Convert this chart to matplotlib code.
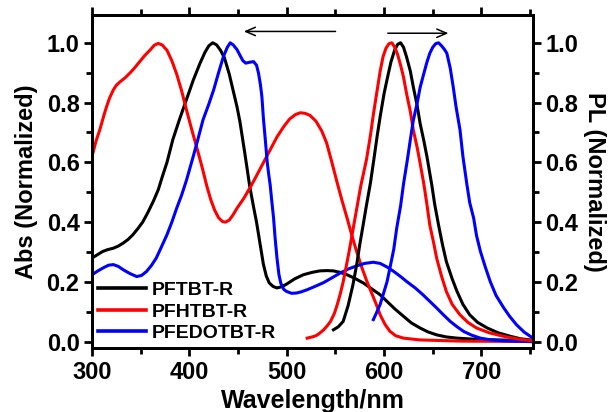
import matplotlib
matplotlib.use('Agg')
import matplotlib.pyplot as plt
from matplotlib.ticker import MultipleLocator

plt.rcParams['font.family'] = ['Liberation Sans', 'DejaVu Sans']
plt.rcParams['font.weight'] = 'bold'

# -----------------------
# DATA
# -----------------------
series_names = ["PFTBT-R", "PFHTBT-R", "PFEDOTBT-R"]
series_colors = ["#000000", "#ff0000", "#0000ff"]

# absorption (left axis)
abs_black_x = [300, 306, 311, 316, 322, 327, 332, 337, 342, 347, 352, 357, 363, 368, 372, 377, 383, 390,
               397, 404, 411, 416, 420, 424, 428, 432, 436, 441, 445, 449, 452, 457, 462, 466, 469, 473,
               476, 479, 482, 486, 490, 495, 500, 508, 517, 526, 534, 541, 548, 555, 562, 570, 579, 586,
               596, 603, 611, 620, 628, 637, 645, 654, 664, 675, 690, 705, 730, 753]
abs_black_y = [0.28, 0.292, 0.302, 0.308, 0.313, 0.32, 0.33, 0.342, 0.358, 0.378, 0.40, 0.43, 0.47, 0.508,
               0.55, 0.60, 0.676, 0.745, 0.81, 0.875, 0.932, 0.968, 0.99, 1.0, 0.993, 0.975, 0.95, 0.895,
               0.84, 0.785, 0.735, 0.63, 0.52, 0.45, 0.40, 0.32, 0.26, 0.22, 0.197, 0.185, 0.18, 0.184,
               0.193, 0.21, 0.224, 0.232, 0.237, 0.238, 0.237, 0.232, 0.224, 0.212, 0.196, 0.18, 0.157,
               0.135, 0.11, 0.085, 0.063, 0.046, 0.033, 0.023, 0.016, 0.012, 0.009, 0.007, 0.005, 0.003]

abs_red_x = [300, 304, 308, 312, 315, 318, 322, 325, 329, 334, 339, 344, 349, 354, 360, 364, 368, 372,
             377, 382, 387, 392, 397, 402, 408, 413, 418, 422, 426, 430, 434, 437, 441, 445, 449, 456,
             464, 473, 483, 490, 497, 503, 509, 514, 519, 524, 530, 536, 541, 546, 552, 557, 562, 567,
             572, 577, 582, 587, 592, 596, 601, 606, 612, 620, 637, 680, 753]
abs_red_y = [0.62, 0.67, 0.709, 0.755, 0.787, 0.815, 0.843, 0.858, 0.87, 0.883, 0.899, 0.917, 0.937,
             0.957, 0.977, 0.992, 0.998, 0.993, 0.975, 0.94, 0.895, 0.84, 0.776, 0.715, 0.645, 0.585,
             0.52, 0.475, 0.44, 0.415, 0.402, 0.40, 0.407, 0.425, 0.447, 0.48, 0.525, 0.58, 0.642, 0.685,
             0.72, 0.745, 0.76, 0.766, 0.764, 0.757, 0.738, 0.705, 0.665, 0.605, 0.53, 0.47, 0.414,
             0.355, 0.30, 0.25, 0.205, 0.165, 0.125, 0.09, 0.058, 0.035, 0.02, 0.012, 0.006, 0.002, 0.001]

abs_blue_x = [300, 306, 312, 317, 322, 327, 332, 339, 346, 351, 356, 361, 366, 371, 377, 382, 387, 392,
              397, 404, 409, 414, 420, 425, 430, 435, 439, 442, 445, 449, 452, 455, 458, 462, 466, 469,
              471, 473, 474.5, 476, 478, 480, 481.5, 483, 485, 486.5, 488, 490, 492, 494, 497, 500, 505,
              510, 515, 521, 529, 538, 546, 555, 563, 572, 580, 589, 596, 603, 610, 617, 623, 632, 640,
              647, 654, 661, 668, 675, 682, 690, 699, 710, 723, 753]
abs_blue_y = [0.224, 0.237, 0.248, 0.256, 0.258, 0.252, 0.241, 0.228, 0.218, 0.222, 0.235, 0.255, 0.28,
              0.315, 0.358, 0.40, 0.447, 0.49, 0.54, 0.62, 0.68, 0.742, 0.795, 0.843, 0.90, 0.954, 0.985,
              1.0, 0.993, 0.977, 0.958, 0.94, 0.932, 0.935, 0.937, 0.925, 0.899, 0.86, 0.82, 0.75, 0.676,
              0.60, 0.56, 0.525, 0.46, 0.414, 0.35, 0.28, 0.225, 0.195, 0.175, 0.168, 0.162, 0.163,
              0.167, 0.174, 0.185, 0.198, 0.213, 0.23, 0.243, 0.254, 0.262, 0.266, 0.262, 0.25, 0.235,
              0.218, 0.202, 0.18, 0.157, 0.135, 0.113, 0.09, 0.068, 0.05, 0.034, 0.022, 0.012, 0.006,
              0.003, 0.0]

# photoluminescence (right axis)
pl_black_x = [548, 553, 558, 563, 568, 572, 575, 579, 582, 586, 589, 593, 596, 600, 603, 607, 611, 614,
              617, 620, 623, 627, 630, 634, 637, 641, 644, 649, 652, 656, 660, 664, 670, 675, 681, 688,
              696, 706, 717, 730, 740, 753]
pl_black_y = [0.04, 0.05, 0.068, 0.12, 0.19, 0.26, 0.324, 0.40, 0.458, 0.531, 0.598, 0.69, 0.753, 0.83,
              0.876, 0.935, 0.977, 0.995, 1.0, 0.985, 0.954, 0.905, 0.853, 0.79, 0.731, 0.67, 0.62, 0.525,
              0.46, 0.39, 0.325, 0.268, 0.21, 0.168, 0.125, 0.09, 0.065, 0.046, 0.03, 0.018, 0.01, 0.005]

pl_red_x = [521, 526, 530, 534, 538, 542, 545, 549, 552, 555, 558, 561, 564, 567, 570, 573, 576, 579,
            582, 586, 589, 593, 596, 599, 602, 605, 608, 611, 614, 617, 620, 623, 627, 630, 634, 637,
            641, 644, 647, 651, 654, 659, 664, 670, 678, 686, 695, 708, 723, 738, 753]
pl_red_y = [0.012, 0.016, 0.02, 0.029, 0.04, 0.055, 0.068, 0.095, 0.125, 0.16, 0.2, 0.25, 0.3, 0.355,
            0.41, 0.465, 0.52, 0.565, 0.61, 0.69, 0.76, 0.843, 0.905, 0.954, 0.982, 0.997, 1.0, 0.985,
            0.96, 0.925, 0.885, 0.832, 0.77, 0.709, 0.65, 0.598, 0.525, 0.46, 0.39, 0.33, 0.28, 0.22,
            0.168, 0.125, 0.09, 0.065, 0.046, 0.03, 0.018, 0.009, 0.003]

pl_blue_x = [589, 592, 596, 599, 603, 606, 610, 613, 617, 620, 624, 627, 630, 634, 637, 641, 644, 647,
             650, 653, 656, 659, 662, 664.5, 668, 671, 674, 678, 681, 685, 688, 692, 695, 699, 704, 709,
             715, 723, 729, 736, 744, 753]
pl_blue_y = [0.074, 0.095, 0.125, 0.157, 0.2, 0.246, 0.31, 0.38, 0.455, 0.528, 0.61, 0.676, 0.74, 0.798,
             0.85, 0.899, 0.935, 0.965, 0.985, 0.997, 1.0, 0.99, 0.978, 0.965, 0.915, 0.853, 0.785,
             0.709, 0.62, 0.528, 0.465, 0.414, 0.355, 0.302, 0.25, 0.202, 0.155, 0.113, 0.085, 0.057,
             0.032, 0.012]

x_ticks = [300, 400, 500, 600, 700]
y_ticks = [0.0, 0.2, 0.4, 0.6, 0.8, 1.0]

# -----------------------
# PLOT
# -----------------------
fig = plt.figure(figsize=(6.13, 4.12), dpi=100)
ax = fig.add_axes([0.1501, 0.1553, 0.7194, 0.8083])
ax2 = ax.twinx()

LW = 2.2
abs_sets = [(abs_black_x, abs_black_y), (abs_red_x, abs_red_y), (abs_blue_x, abs_blue_y)]
pl_sets = [(pl_black_x, pl_black_y), (pl_red_x, pl_red_y), (pl_blue_x, pl_blue_y)]
for (xs, ys), name, col in zip(abs_sets, series_names, series_colors):
    ax.plot(xs, ys, color=col, lw=LW, label=name, solid_joinstyle='round')
for (xs, ys), col in zip(pl_sets, series_colors):
    ax2.plot(xs, ys, color=col, lw=LW, solid_joinstyle='round')

for a in (ax, ax2):
    a.set_xlim(300, 753)
    a.set_ylim(-0.021, 1.093)
    for s in a.spines.values():
        s.set_linewidth(2.0)

ax.set_xticks(x_ticks)
ax.xaxis.set_minor_locator(MultipleLocator(50))
ax.set_yticks(y_ticks)
ax.yaxis.set_minor_locator(MultipleLocator(0.1))
ax.set_yticklabels([f"{v:.1f}" for v in y_ticks])
ax2.set_yticks(y_ticks)
ax2.yaxis.set_minor_locator(MultipleLocator(0.1))
ax2.set_yticklabels([f"{v:.1f}" for v in y_ticks])

ax.tick_params(axis='both', which='major', direction='out', length=6, width=2,
               labelsize=17, pad=3)
ax.tick_params(axis='both', which='minor', direction='out', length=4, width=2)
ax.tick_params(axis='x', which='both', top=True, labeltop=False)
ax2.tick_params(axis='y', which='major', direction='out', length=6, width=2, labelsize=17, pad=3)
ax2.tick_params(axis='y', which='minor', direction='out', length=4, width=2)
for lab in ax.get_xticklabels() + ax.get_yticklabels() + ax2.get_yticklabels():
    lab.set_fontweight('bold')

ax.set_xlabel("Wavelength/nm", fontsize=18, fontweight='bold', labelpad=4)
ax.set_ylabel("Abs (Normalized)", fontsize=17, fontweight='bold', labelpad=6)
ax2.set_ylabel("PL (Normalized)", fontsize=17, fontweight='bold', rotation=270, labelpad=20)

leg = ax.legend(loc='lower left', frameon=False, handlelength=2.5,
                handletextpad=0.25, labelspacing=0.2, borderpad=0.0, borderaxespad=0.3,
                prop={'weight': 'bold', 'size': 14})
for line in leg.get_lines():
    line.set_linewidth(2.6)

# direction arrows
arrow_props = dict(arrowstyle='->,head_length=0.7,head_width=0.3', color='black', lw=1.1)
ax.annotate("", xy=(453, 1.038), xytext=(553, 1.038), arrowprops=arrow_props)
ax.annotate("", xy=(669, 1.032), xytext=(601, 1.032), arrowprops=arrow_props)

plt.savefig("out.png", dpi=100)
plt.close()
